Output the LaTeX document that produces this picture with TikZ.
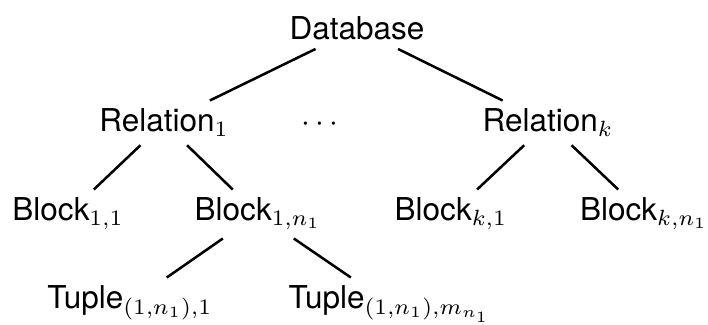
\documentclass[tikz,border=0pt]{standalone}
\usepackage[no-math]{fontspec}
\setmainfont{TeX Gyre Heros}
\tikzset{
    entity/.style={anchor=base, inner sep=2.5pt},
    edge/.style={thick}
}

\begin{document}
\begin{tikzpicture}[x=0.3175pt, y=-0.3175pt]
    \useasboundingbox (0,0) rectangle (708,325);
    % Root
    \node[entity] (database) at (357,40) {Database};
    % Relations
    \node[entity] (relation_1) at (164,132) {Relation$_1$};
    \node[entity] (dots) at (320,132) {$\cdots$};
    \node[entity] (relation_k) at (548,132) {Relation$_k$};
    % Blocks
    \node[entity] (block_11) at (68,221) {Block$_{1,1}$};
    \node[entity] (block_1n) at (258,221) {Block$_{1,n_1}$};
    \node[entity] (block_k1) at (451,221) {Block$_{k,1}$};
    \node[entity] (block_kn) at (644,221) {Block$_{k,n_1}$};
    % Tuples
    \node[entity] (tuple_1) at (130,309) {Tuple$_{(1,n_1),1}$};
    \node[entity] (tuple_m) at (390,309) {Tuple$_{(1,n_1),m_{n_1}}$};
    % Edges
    \draw[edge] (database) -- (relation_1);
    \draw[edge] (database) -- (relation_k);
    \draw[edge] (relation_1) -- (block_11);
    \draw[edge] (relation_1) -- (block_1n);
    \draw[edge] (relation_k) -- (block_k1);
    \draw[edge] (relation_k) -- (block_kn);
    \draw[edge] (block_1n) -- (tuple_1);
    \draw[edge] (block_1n) -- (tuple_m);
\end{tikzpicture}
\end{document}
